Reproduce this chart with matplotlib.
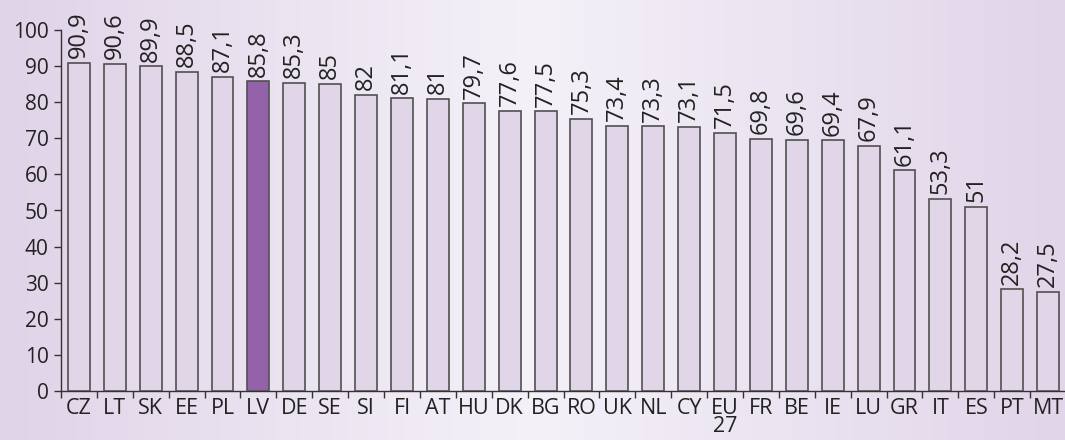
import numpy as np
import matplotlib.pyplot as plt
from matplotlib.colors import LinearSegmentedColormap

countries = ["CZ", "LT", "SK", "EE", "PL", "LV", "DE", "SE", "SI", "FI", "AT", "HU", "DK", "BG",
             "RO", "UK", "NL", "CY", "EU\n27", "FR", "BE", "IE", "LU", "GR", "IT", "ES", "PT", "MT"]
values = [90.9, 90.6, 89.9, 88.5, 87.1, 85.8, 85.3, 85, 82, 81.1, 81, 79.7, 77.6, 77.5,
          75.3, 73.4, 73.3, 73.1, 71.5, 69.8, 69.6, 69.4, 67.9, 61.1, 53.3, 51, 28.2, 27.5]
highlight = "LV"

plt.rcParams['font.family'] = ['Open Sans', 'DejaVu Sans']

fig = plt.figure(figsize=(10.65, 4.4), dpi=100)

# gradient background
bg = fig.add_axes([0, 0, 1, 1], zorder=-10)
cmap = LinearSegmentedColormap.from_list("bg", ["#e0d4e8", "#f4f1f8", "#e1d5e9"])
bg.imshow(np.linspace(0, 1, 256)[None, :], aspect="auto", cmap=cmap, extent=[0, 1, 0, 1])
bg.axis("off")

ax = fig.add_axes([61 / 1065, 49 / 440, 1005 / 1065, 361 / 440])
ax.patch.set_alpha(0)

x = np.arange(len(countries))
colors = ["#9462a8" if c == highlight else "#e0d6e8" for c in countries]
ax.bar(x, values, width=0.61, color=colors, edgecolor="#505050", linewidth=1.2, zorder=3)

for xi, v in zip(x, values):
    txt = f"{v:g}".replace(".", ",")
    ax.text(xi, v + 1.3, txt, rotation=90, ha="center", va="bottom",
            fontsize=17, color="#222222", clip_on=False)

ax.set_xlim(-0.5, len(countries) - 0.5)
ax.set_ylim(0, 100)
ax.set_yticks(np.arange(0, 101, 10))
ax.tick_params(axis="y", labelsize=15, length=5, width=1, color="#333333", labelcolor="#222222", pad=4)

ax.set_xticks(x)
ax.set_xticklabels(countries, fontsize=15.5, color="#222222", linespacing=0.82)
ax.tick_params(axis="x", length=0, pad=5)
ax.set_xticks(np.arange(-0.5, len(countries), 1), minor=True)
ax.tick_params(axis="x", which="minor", length=5, width=1, color="#333333", direction="out")

for s in ["top", "right"]:
    ax.spines[s].set_visible(False)
for s in ["left", "bottom"]:
    ax.spines[s].set_color("#333333")
    ax.spines[s].set_linewidth(1)

fig.savefig("out.png", dpi=100)
